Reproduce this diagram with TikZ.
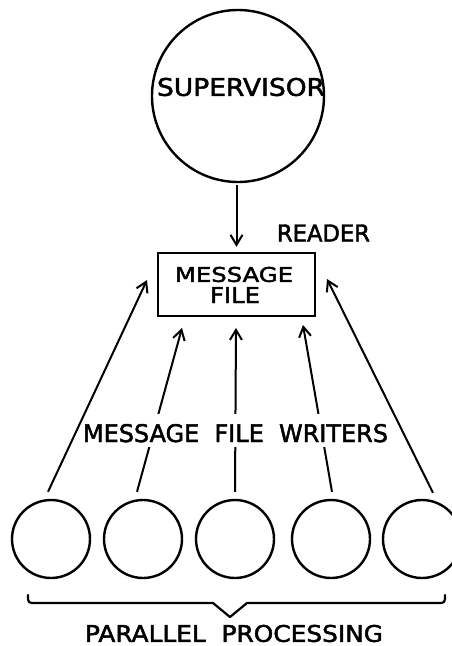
\documentclass[tikz,border=0pt]{standalone}
\usepackage{fontspec}
\setmainfont{DejaVu Sans}
\newfontfamily\plotfont{DejaVu Sans}[FakeBold=2]
\usepackage{graphicx}
\usetikzlibrary{arrows.meta}
% scale a capital-letter label to a given width and cap height
\newcommand\fitlabel[3]{\resizebox{#1}{#2}{\plotfont #3}}
\begin{document}
\begin{tikzpicture}[x=1pt,y=-1pt,
  ring/.style={circle,draw,line width=2.4pt,minimum size=#1,inner sep=0pt},
  filebox/.style={draw,line width=2.4pt,minimum width=157pt,minimum height=63pt,inner sep=0pt},
  feed/.style={line width=2pt,-{Straight Barb[length=10pt,width=12pt,line width=2pt]}},
  lbl/.style={inner sep=0pt},
  brace/.style={line width=2.2pt,line join=round,line cap=round}]
\useasboundingbox (0,0) rectangle (452,646);
\clip (0,0) rectangle (452,646);

% supervisor and its label
\node[ring=172pt] (sup) at (238,96) {};
\node[lbl] (suplbl) at (241,87) {\fitlabel{168pt}{18pt}{SUPERVISOR}};

% message file
\node[filebox] (file) at (236.5,284.5) {};
\node[lbl] (msg) at (234,274.5) {\fitlabel{118pt}{15pt}{MESSAGE}};
\node[lbl] (fil) at (235,295) {\fitlabel{50pt}{16pt}{FILE}};
\node[lbl] (reader) at (323.5,233) {\fitlabel{93pt}{17pt}{READER}};

\draw[feed,shorten <=2pt,shorten >=5pt] (file.north |- sup.south) -- (file.north);

% parallel processes
\node[ring=78pt] (w1) at (51,539) {};
\node[ring=78pt] (w2) at (143,539) {};
\node[ring=78pt] (w3) at (235,539) {};
\node[ring=78pt] (w4) at (331,539) {};
\node[ring=78pt] (w5) at (422,539) {};

% arrow tips next to the file
\coordinate (t1) at (147,280);
\coordinate (t2) at (182,328);
\coordinate (t3) at (236,328);
\coordinate (t4) at (303,325);
\coordinate (t5) at (327,279);

\draw[feed] ([shift={(-6pt,7pt)}]w2.north) -- (t2);
\draw[feed] ([shift={(0pt,7pt)}]w3.north) -- (t3);
\draw[feed] ([shift={(1pt,7pt)}]w4.north) -- (t4);

\node[lbl,fill=white,anchor=base,inner xsep=1pt,text height=28pt,text depth=5pt] (writers) at (235.5,442)
  {\fitlabel{305pt}{18pt}{MESSAGE\ \ FILE\ \ WRITERS}};

\draw[feed] ([shift={(-3pt,7pt)}]w1.north) -- (t1);
\draw[feed] ([shift={(11pt,6pt)}]w5.north) -- (t5);

% brace under the processes
\draw[brace] (28,595) .. controls (28,603) .. (36,603) -- (213,603) -- (230,617)
  -- (247,603) -- (437,603) .. controls (445,603) .. (445,595);
\node[lbl] (par) at (234,633.5) {\fitlabel{298pt}{17pt}{PARALLEL\ \ PROCESSING}};
\end{tikzpicture}
\end{document}
